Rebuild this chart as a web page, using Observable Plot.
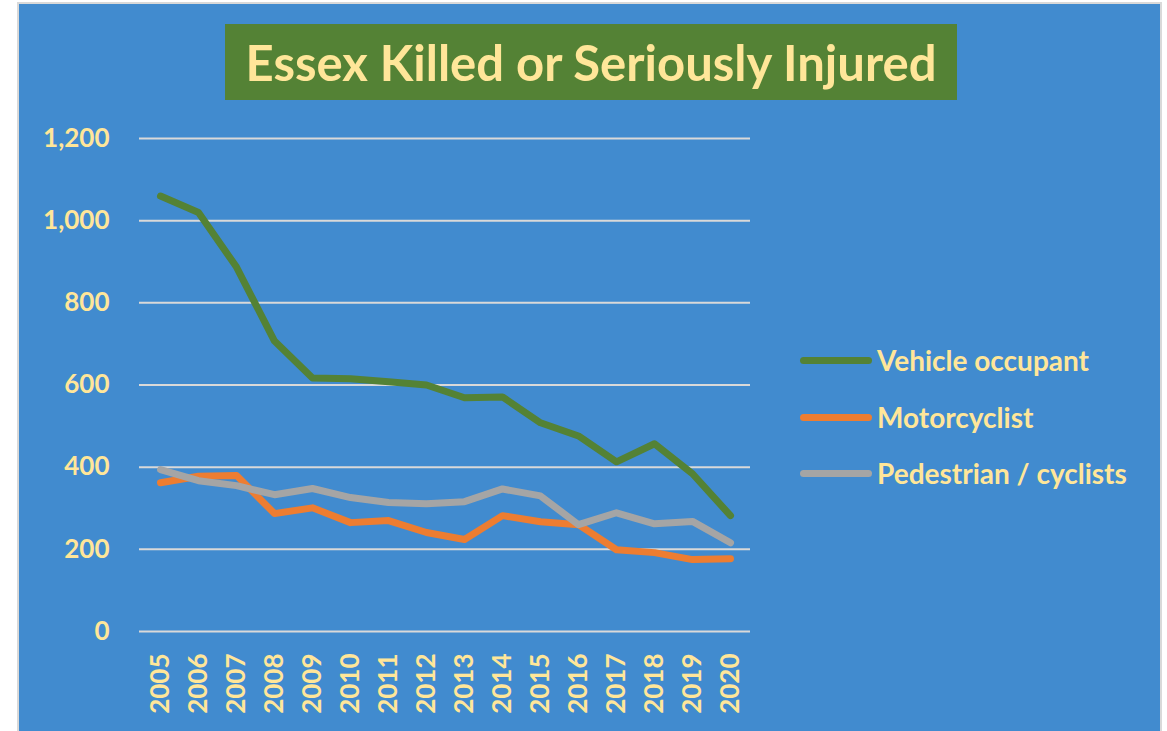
<!DOCTYPE html>
<html>
<head>
<meta charset="utf-8">
<script src="https://cdn.jsdelivr.net/npm/d3@7"></script>
<script src="https://cdn.jsdelivr.net/npm/@observablehq/plot@0.6"></script>
<style>
  html, body { margin: 0; padding: 0; background: #ffffff; }
  #wrap { position: relative; width: 1167px; height: 731px; overflow: hidden; font-family: Lato, "Open Sans", sans-serif; }
  #panel { position: absolute; left: 17px; top: 2px; width: 1141px; height: 735px; background: #418BCF; border: 2px solid #D9D9D9; }
  #title { position: absolute; left: 225px; top: 24px; width: 732px; height: 76px; background: #548235; color: #FFE699;
           font-weight: bold; font-size: 49px; line-height: 76px; text-align: center; white-space: nowrap; }
  #chart { position: absolute; left: 0; top: 0; }
  #legend { position: absolute; left: 800px; top: 340px; color: #FFE699; font-weight: bold; font-size: 28px; }
  .item { position: absolute; left: 0; height: 40px; display: flex; align-items: center; white-space: nowrap; }
  .sw { display: inline-block; width: 72px; height: 7px; border-radius: 4px; margin-right: 5px; }
</style>
</head>
<body>
<div id="wrap">
  <div id="panel"></div>
  <div id="title"></div>
  <div id="chart"></div>
  <div id="legend"></div>
</div>
<script>
const titleText = "Essex Killed or Seriously Injured";
const years = ["2005","2006","2007","2008","2009","2010","2011","2012","2013","2014","2015","2016","2017","2018","2019","2020"];
const seriesNames = ["Vehicle occupant", "Motorcyclist", "Pedestrian / cyclists"];
const seriesColors = ["#548235", "#ED7D31", "#A5A5A5"];
const vehicleOccupant = [1060, 1020, 887, 707, 617, 615, 608, 600, 569, 571, 508, 476, 413, 457, 384, 282];
const motorcyclist = [362, 378, 380, 287, 301, 265, 270, 241, 224, 282, 267, 260, 199, 192, 175, 177];
const pedestrianCyclists = [394, 367, 355, 333, 348, 326, 314, 311, 316, 347, 330, 260, 289, 262, 268, 216];
const yTicks = [0, 200, 400, 600, 800, 1000, 1200];

const seriesValues = [vehicleOccupant, motorcyclist, pedestrianCyclists];
const rows = [];
seriesNames.forEach((name, i) => {
  years.forEach((yr, j) => rows.push({series: name, year: yr, value: seriesValues[i][j]}));
});

document.getElementById("title").textContent = titleText;

const textColor = "#FFE699";
const chart = Plot.plot({
  width: 1167,
  height: 731,
  marginLeft: 139,
  marginRight: 417,
  marginTop: 138,
  marginBottom: 100,
  style: {background: "transparent", fontFamily: "Lato, 'Open Sans', sans-serif", color: textColor, overflow: "visible"},
  x: {type: "point", domain: years, padding: 0.5, label: null},
  y: {domain: [0, 1200], label: null},
  color: {domain: seriesNames, range: seriesColors},
  marks: [
    Plot.ruleY(yTicks, {stroke: "#D9D9D9", strokeWidth: 2}),
    Plot.axisY({ticks: yTicks, tickSize: 0, tickPadding: 30, tickFormat: d3.format(","), fill: textColor, fontSize: 26, fontWeight: "bold", label: null}),
    Plot.axisX({tickSize: 0, tickRotate: -90, tickPadding: 22, fill: textColor, fontSize: 26, fontWeight: "bold", label: null}),
    Plot.line(rows, {x: "year", y: "value", z: "series", stroke: "series", strokeWidth: 7, strokeLinecap: "round", strokeLinejoin: "round"})
  ]
});
document.getElementById("chart").appendChild(chart);

const legend = document.getElementById("legend");
const legendTops = [0, 57, 113];
seriesNames.forEach((name, i) => {
  const item = document.createElement("div");
  item.className = "item";
  item.style.top = legendTops[i] + "px";
  const sw = document.createElement("span");
  sw.className = "sw";
  sw.style.background = seriesColors[i];
  item.appendChild(sw);
  const t = document.createElement("span");
  t.textContent = name;
  item.appendChild(t);
  legend.appendChild(item);
});
</script>
</body>
</html>
